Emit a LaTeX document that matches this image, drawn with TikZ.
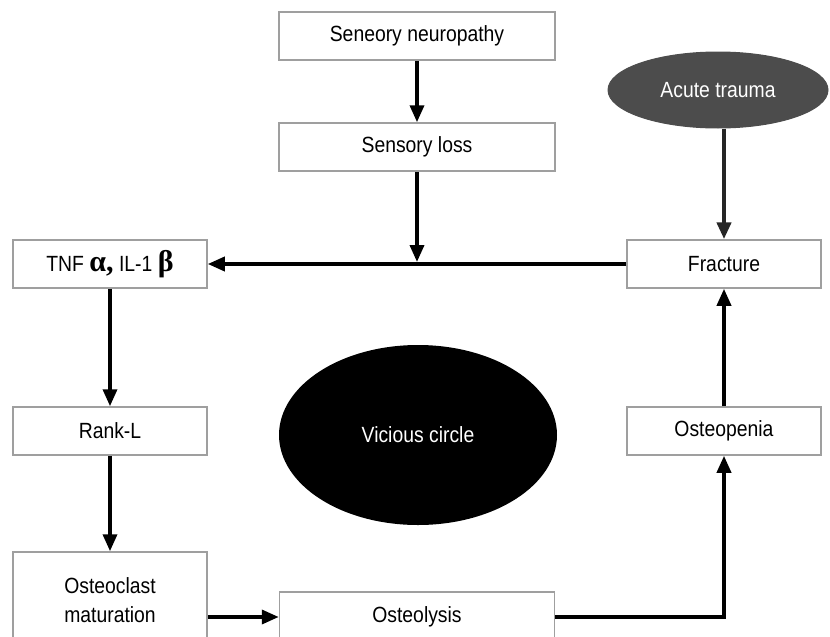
\documentclass[tikz,border=0pt]{standalone}
\usepackage{fontspec}
\setmainfont{Liberation Sans}[FakeStretch=0.88]
\newfontfamily\greekfont{Liberation Serif}
\usetikzlibrary{arrows.meta,shapes.geometric}

\tikzset{
  stepbox/.style={draw=gray!75,line width=1.5pt,fill=white,inner sep=0pt,
    minimum height=48pt,align=center,font=\fontsize{22}{29}\selectfont},
  wide/.style={stepbox,minimum width=276pt},
  side/.style={stepbox,minimum width=194pt},
  blob/.style={ellipse,inner sep=0pt,text=white,font=\fontsize{22}{24}\selectfont},
  flow/.style={line width=3.6pt,-{Triangle[length=17pt,width=14pt]}}
}

\begin{document}
\begin{tikzpicture}[x=1pt,y=-1pt]
\useasboundingbox (0,0) rectangle (830,637);

% top chain
\node[wide] (neuro) at (417,36) {Seneory neuropathy};
\node[wide] (sloss) at (417,147) {Sensory loss};

% side columns
\node[side] (tnf) at (110,264) {TNF {\greekfont\bfseries\fontsize{30}{30}\selectfont α,} IL-1 {\greekfont\bfseries\fontsize{30}{30}\selectfont β}};
\node[side] (rankl) at (110,431) {Rank-L};
\node[side,minimum height=96pt] (oclast) at (110,600) {Osteoclast\\maturation};
\node[wide,minimum width=275pt,minimum height=50pt] (olysis) at (417,617) {Osteolysis};
\node[side] (openia) at (724,431) {Osteopenia};
\node[side] (fract) at (724,264) {Fracture};

% ellipses
\node[blob,draw=gray!60!black,line width=1pt,fill=black!70,minimum width=220pt,minimum height=76pt] (trauma) at (718,90) {Acute trauma};
\node[blob,fill=black,minimum width=278pt,minimum height=180pt] (vicious) at (418,435) {Vicious circle};

% connectors
\draw[flow] (neuro) -- (sloss);
\draw[flow,shorten >=2pt] (sloss.south) -- (sloss.south |- fract.west);
\draw[flow] (fract.west) -- (tnf.east);
\draw[flow] (tnf) -- (rankl);
\draw[flow] (rankl) -- (oclast);
\draw[flow] (oclast.east |- olysis.west) -- (olysis.west);
\draw[flow] (olysis.east) -| (openia.south);
\draw[flow] (openia) -- (fract);
\draw[flow,line width=4.5pt,black!85] (trauma.south -| fract.north) -- (fract.north);
\end{tikzpicture}
\end{document}
